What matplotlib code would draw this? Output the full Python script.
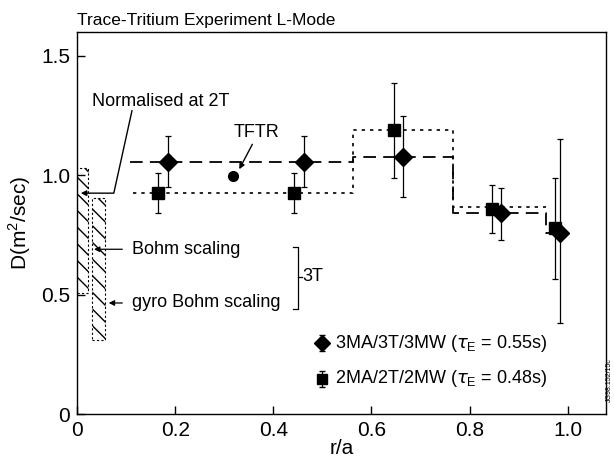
import matplotlib
matplotlib.use("Agg")
import matplotlib.pyplot as plt
import numpy as np

plt.rcParams['font.family'] = ['Liberation Sans', 'DejaVu Sans']
plt.rcParams['hatch.linewidth'] = 1.0

# 3MA/3T/3MW series (diamonds)
r_3t = [0.186, 0.463, 0.665, 0.865, 0.984]
d_3t = [1.056, 1.056, 1.077, 0.840, 0.760]
d_3t_hi = [1.165, 1.165, 1.250, 0.945, 1.150]
d_3t_lo = [0.950, 0.950, 0.910, 0.730, 0.380]

# 2MA/2T/2MW series (squares)
r_2t = [0.165, 0.443, 0.645, 0.845, 0.975]
d_2t = [0.925, 0.925, 1.190, 0.860, 0.780]
d_2t_hi = [1.010, 1.010, 1.385, 0.960, 0.990]
d_2t_lo = [0.840, 0.840, 0.990, 0.760, 0.565]

# step profiles
step_edges_3t = [0.108, 0.563, 0.767, 0.955, 0.985]
step_vals_3t = [1.056, 1.077, 0.840, 0.760]
step_edges_2t = [0.115, 0.563, 0.767, 0.955]
step_vals_2t = [0.925, 1.190, 0.865]

# TFTR point
r_tftr = [0.318]
d_tftr = [0.995]

# scaling bars: (x0, x1, bottom, top)
bohm_bar = [0.0, 0.023, 0.507, 1.03]
gyro_bar = [0.031, 0.057, 0.31, 0.905]

fig = plt.figure(figsize=(6.14, 4.62), dpi=100)
ax = fig.add_axes([77/614, 1-414/462, (606-77)/614, (414-32)/462])
ax.set_xlim(0, 1.078)
ax.set_ylim(0, 1.60)


def step_xy(edges, vals):
    xs, ys = [], []
    for i, v in enumerate(vals):
        xs += [edges[i], edges[i+1]]
        ys += [v, v]
    return xs, ys

xs, ys = step_xy(step_edges_3t, step_vals_3t)
ax.plot(xs, ys, color='black', lw=1.3, dashes=(7, 4))
xs, ys = step_xy(step_edges_2t, step_vals_2t)
ax.plot(xs, ys, color='black', lw=1.2, dashes=(2, 3))

err3 = [np.array(d_3t) - np.array(d_3t_lo), np.array(d_3t_hi) - np.array(d_3t)]
err2 = [np.array(d_2t) - np.array(d_2t_lo), np.array(d_2t_hi) - np.array(d_2t)]
ax.errorbar(r_2t, d_2t, yerr=err2, fmt='s', color='black', ms=8, capsize=2,
            elinewidth=0.9, capthick=0.9)
ax.errorbar(r_3t, d_3t, yerr=err3, fmt='D', color='black', ms=9, capsize=2,
            elinewidth=0.9, capthick=0.9)
ax.plot(r_tftr, d_tftr, 'o', color='black', ms=7)

for bar in (bohm_bar, gyro_bar):
    ax.bar(bar[0], bar[3]-bar[2], width=bar[1]-bar[0], bottom=bar[2],
           align='edge', facecolor='white', edgecolor='black', hatch='\\\\',
           lw=0.8, ls=(0, (2, 2)))

fs = 13
# Normalised at 2T
ax.text(0.030, 1.31, 'Normalised at 2T', fontsize=fs, va='center', ha='left')
ax.plot([0.112, 0.075, 0.015], [1.27, 0.925, 0.925], color='black', lw=1.0)
ax.annotate('', xy=(0.002, 0.925), xytext=(0.02, 0.925),
            arrowprops=dict(arrowstyle='-|>', color='black', lw=1.0,
                            mutation_scale=8))

# TFTR
ax.text(0.365, 1.18, 'TFTR', fontsize=fs, ha='center', va='center')
ax.annotate('', xy=(0.328, 1.015), xytext=(0.36, 1.14),
            arrowprops=dict(arrowstyle='-|>', color='black', lw=1.0,
                            mutation_scale=8))

# Bohm scaling labels
ax.text(0.112, 0.69, 'Bohm scaling', fontsize=fs, va='center', ha='left')
ax.annotate('', xy=(0.029, 0.69), xytext=(0.098, 0.69),
            arrowprops=dict(arrowstyle='-|>', color='black', lw=0.9,
                            mutation_scale=8))
ax.text(0.112, 0.465, 'gyro Bohm scaling', fontsize=fs, va='center', ha='left')
ax.annotate('', xy=(0.059, 0.465), xytext=(0.098, 0.465),
            arrowprops=dict(arrowstyle='-|>', color='black', lw=0.9,
                            mutation_scale=8))
ax.plot([0.44, 0.45, 0.45, 0.44], [0.70, 0.70, 0.44, 0.44], color='black', lw=0.9)
ax.plot([0.45, 0.458], [0.575, 0.575], color='black', lw=0.9)
ax.text(0.46, 0.575, '3T', fontsize=fs, va='center', ha='left')

# legend
ax.errorbar([0.5], [0.297], yerr=[[0.035], [0.035]], fmt='D', color='black',
            ms=8, capsize=2, elinewidth=0.9)
ax.text(0.525, 0.297, r'3MA/3T/3MW ($\tau_\mathregular{E}$ = 0.55s)', fontsize=fs, va='center')
ax.errorbar([0.5], [0.147], yerr=[[0.035], [0.035]], fmt='s', color='black',
            ms=7, capsize=2, elinewidth=0.9)
ax.text(0.525, 0.147, r'2MA/2T/2MW ($\tau_\mathregular{E}$ = 0.48s)', fontsize=fs, va='center')

ax.set_xticks([0, 0.2, 0.4, 0.6, 0.8, 1.0])
ax.set_xticklabels(['0', '0.2', '0.4', '0.6', '0.8', '1.0'])
ax.set_yticks([0, 0.5, 1.0, 1.5])
ax.set_yticklabels(['0', '0.5', '1.0', '1.5'])
ax.tick_params(direction='in', length=6, width=1, labelsize=15, top=False,
               right=False, pad=5)
for s in ax.spines.values():
    s.set_linewidth(1.0)
ax.set_xlabel('r/a', fontsize=15, labelpad=-1)
ax.set_ylabel(r'D(m$^\mathregular{2}$/sec)', fontsize=15, labelpad=6)

fig.text(77/614, 1-20/462, 'Trace-Tritium Experiment L-Mode', fontsize=12.5,
         ha='left', va='center')
fig.text(609/614, 1-380/462, 'JG98.152/15c', fontsize=5, rotation=90,
         ha='center', va='center')

fig.savefig('out.png', dpi=100)
